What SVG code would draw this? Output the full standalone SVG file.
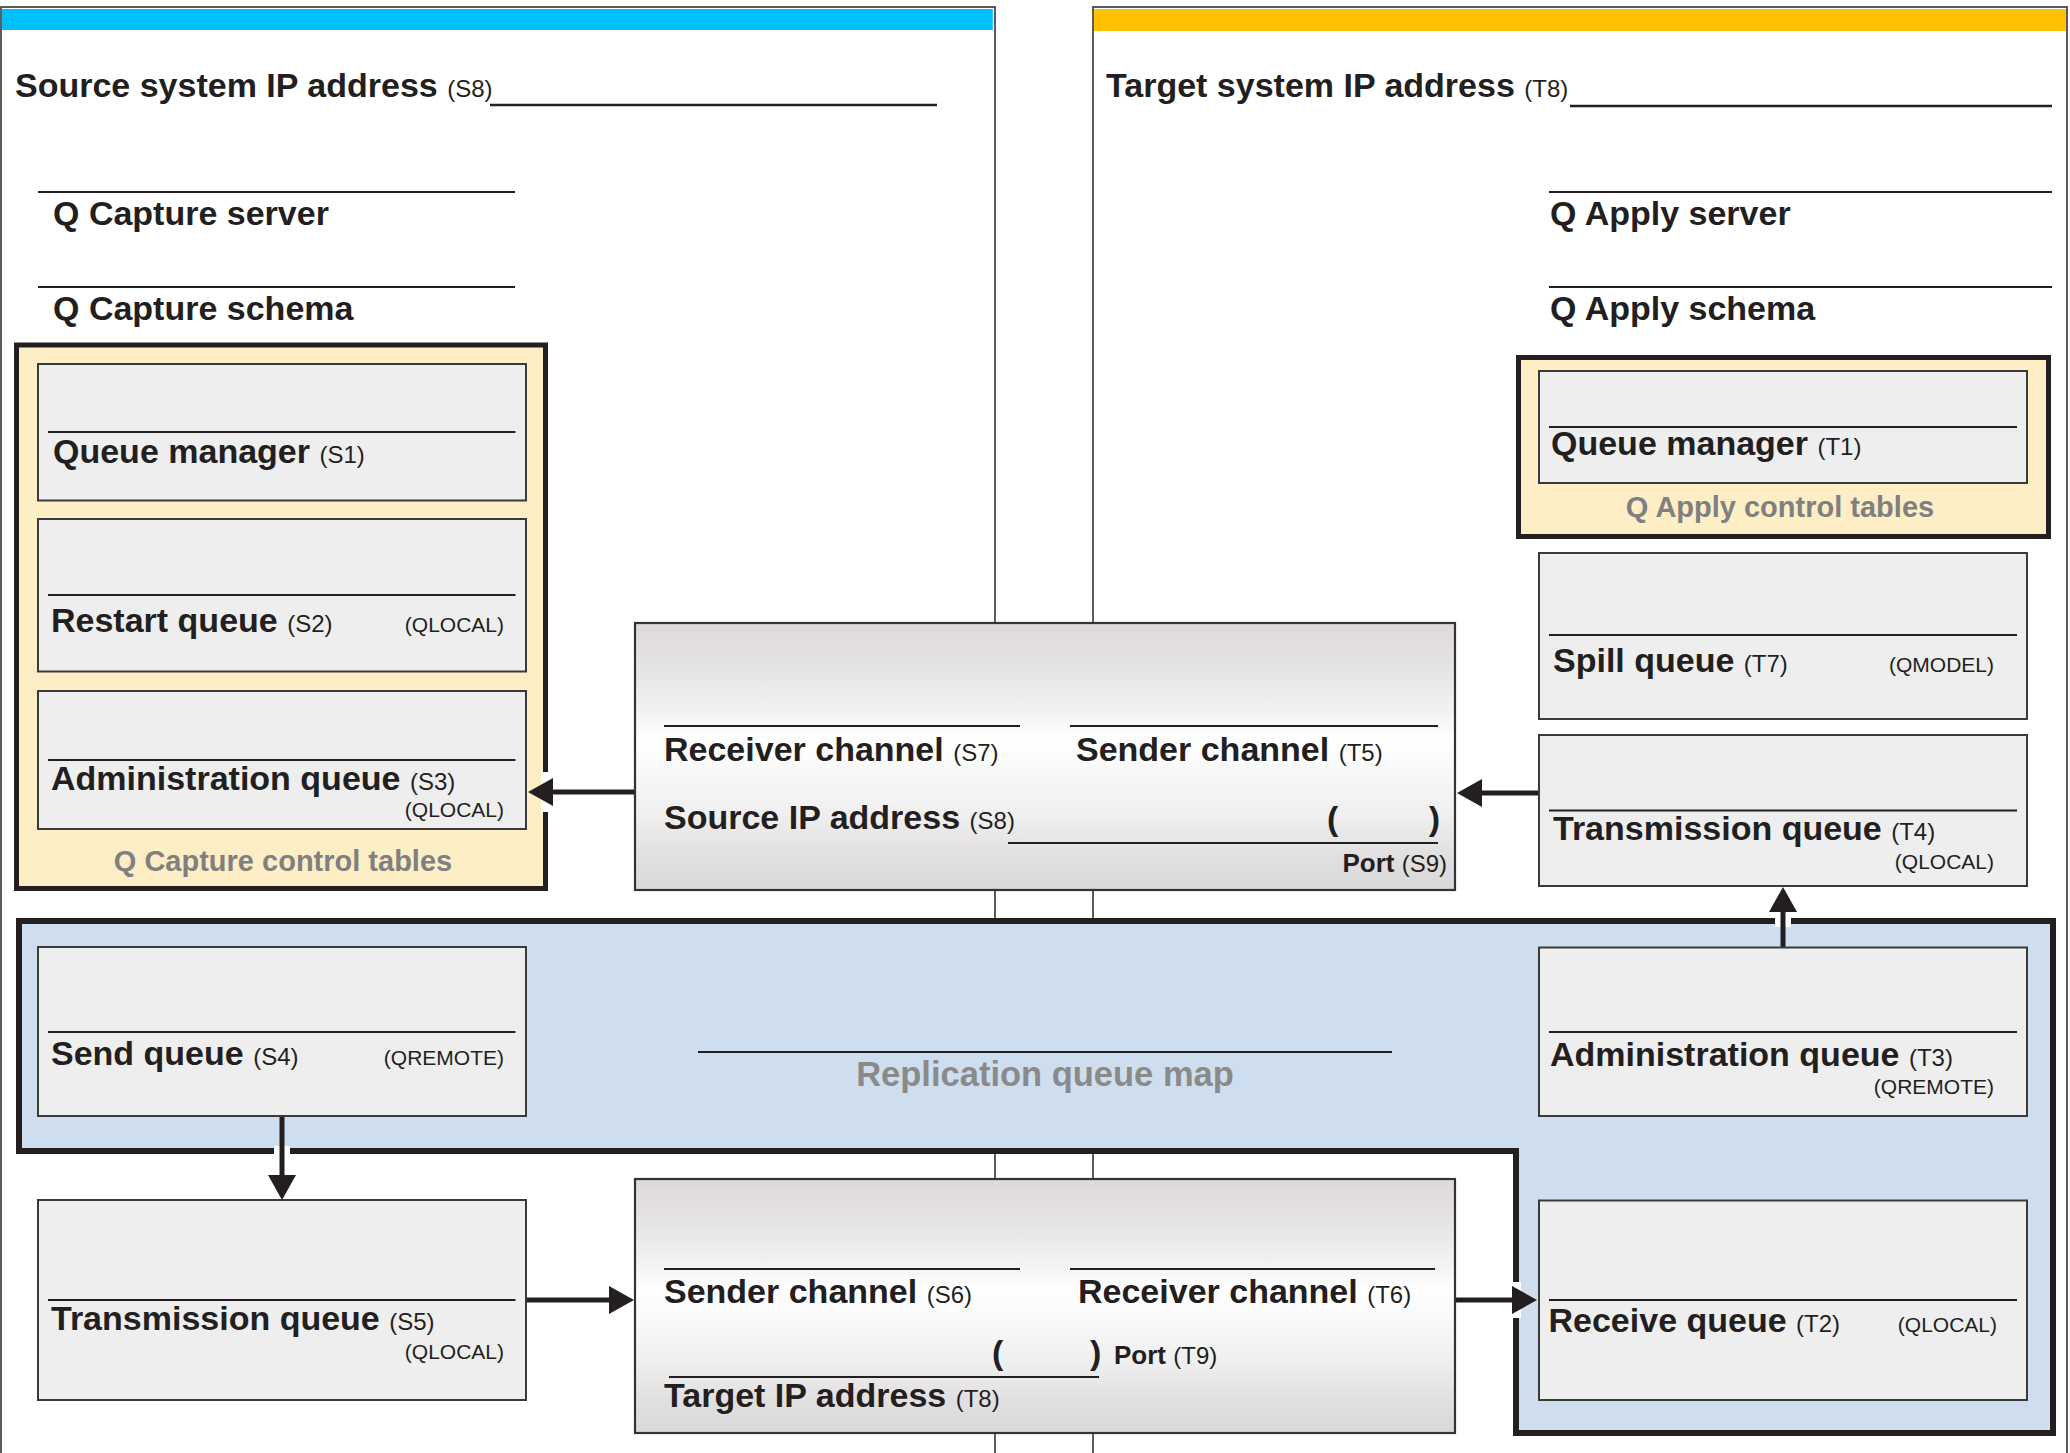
<svg xmlns="http://www.w3.org/2000/svg" width="2070" height="1453" viewBox="0 0 2070 1453">
<defs>
<style>
.panel{fill:#ffffff;stroke:#333;stroke-width:1.6}
.box{fill:#eeeeee;stroke:#3a3a3a;stroke-width:2}
.ch{fill:url(#chg);stroke:#333;stroke-width:2.2}
.ul{stroke:#231f20;stroke-width:2.2;fill:none}
.hl{stroke:#231f20;stroke-width:2.6;fill:none}
.lb{font-family:"Liberation Sans",Arial,Helvetica,sans-serif;font-weight:bold;font-size:34px;fill:#231f20}
.sm{font-weight:normal;font-size:24px}
.ty{font-family:"Liberation Sans",Arial,Helvetica,sans-serif;font-size:21px;fill:#231f20}
.gr{font-family:"Liberation Sans",Arial,Helvetica,sans-serif;font-weight:bold;font-size:29px;fill:#808080;text-anchor:middle}
.gr2{font-family:"Liberation Sans",Arial,Helvetica,sans-serif;font-weight:bold;font-size:34.5px;fill:#8a8a8a;text-anchor:middle}
.pt{font-family:"Liberation Sans",Arial,Helvetica,sans-serif;font-weight:bold;font-size:26px;fill:#231f20}
.halo{fill:#ffffff}
.conn{stroke:#231f20;stroke-width:5;fill:none}
</style>
<linearGradient id="chg" x1="0" y1="0" x2="0" y2="1">
<stop offset="0" stop-color="#d9d9d9"/>
<stop offset="0.06" stop-color="#e3dcde"/>
<stop offset="0.18" stop-color="#e5e5e5"/>
<stop offset="0.33" stop-color="#f2f2f2"/>
<stop offset="0.44" stop-color="#ffffff"/>
<stop offset="0.56" stop-color="#f8f8f8"/>
<stop offset="0.72" stop-color="#efefef"/>
<stop offset="0.86" stop-color="#e3e0e1"/>
<stop offset="1" stop-color="#d8d8d8"/>
</linearGradient>
<marker id="ah" viewBox="0 0 25 28" refX="0" refY="14" markerWidth="25" markerHeight="28" markerUnits="userSpaceOnUse" orient="auto" overflow="visible">
<path d="M0,0 L25,14 L0,28 Z" fill="#231f20"/>
</marker>
</defs>

<rect width="2070" height="1453" fill="#ffffff"/>

<g id="source-system">
<rect class="panel" x="1" y="7" width="994" height="1470"/>
<rect x="1.8" y="9" width="991" height="21" fill="#00bfff"/>
<text class="lb" x="15" y="97">Source system IP address <tspan class="sm">(S8)</tspan></text>
<line class="hl" x1="490" y1="105" x2="937" y2="105"/>
<line class="ul" x1="38" y1="192" x2="515" y2="192"/>
<text class="lb" x="53" y="225">Q Capture server</text>
<line class="ul" x1="38" y1="287" x2="515" y2="287"/>
<text class="lb" x="53" y="320">Q Capture schema</text>
</g>

<g id="target-system">
<rect class="panel" x="1093" y="7" width="974" height="1470"/>
<rect x="1094" y="9" width="972" height="22" fill="#ffc000"/>
<text class="lb" x="1106" y="97">Target system IP address <tspan class="sm">(T8)</tspan></text>
<line class="hl" x1="1570" y1="106" x2="2052" y2="106"/>
<line class="ul" x1="1549" y1="192" x2="2052" y2="192"/>
<text class="lb" x="1550" y="225">Q Apply server</text>
<line class="ul" x1="1549" y1="287" x2="2052" y2="287"/>
<text class="lb" x="1550" y="320">Q Apply schema</text>
</g>

<g id="capture-control-tables">
<rect x="16.5" y="345" width="529" height="543.5" fill="#fdeec6" stroke="#231f20" stroke-width="5"/>
<text class="gr" x="283" y="871">Q Capture control tables</text>
</g>

<g id="apply-control-tables">
<rect x="1518.5" y="357.5" width="530" height="179" fill="#fdeec6" stroke="#231f20" stroke-width="5"/>
<text class="gr" x="1780" y="517">Q Apply control tables</text>
</g>

<g id="replication-queue-map">
<path d="M19,921 H2053 V1433 H1516 V1151 H19 Z" fill="#cedeee" stroke="#231f20" stroke-width="6"/>
<line class="ul" x1="698" y1="1052" x2="1392" y2="1052"/>
<text class="gr2" x="1045" y="1086">Replication queue map</text>
</g>

<g id="connectors">
<rect class="halo" x="541" y="772" width="9" height="40"/>
<rect class="halo" x="274" y="1146" width="16" height="11"/>
<rect class="halo" x="1775" y="916" width="16" height="11"/>
<rect class="halo" x="1511" y="1282" width="10" height="36"/>
<path class="conn" d="M635,792 H553" marker-end="url(#ah)"/>
<path class="conn" d="M1539,793 H1482" marker-end="url(#ah)"/>
<path class="conn" d="M282,1116 V1175" marker-end="url(#ah)"/>
<path class="conn" d="M1783,947 V912" marker-end="url(#ah)"/>
<path class="conn" d="M526,1300 H609" marker-end="url(#ah)"/>
<path class="conn" d="M1455,1300 H1512" marker-end="url(#ah)"/>
</g>

<g id="s1-queue-manager">
<rect class="box" x="38" y="364" width="488" height="136.5"/>
<line class="ul" x1="48" y1="432" x2="515.5" y2="432"/>
<text class="lb" x="53" y="463">Queue manager <tspan class="sm">(S1)</tspan></text>
</g>

<g id="s2-restart-queue">
<rect class="box" x="38" y="519" width="488" height="152.5"/>
<line class="ul" x1="48" y1="595" x2="515.5" y2="595"/>
<text class="lb" x="51" y="631.5">Restart queue <tspan class="sm">(S2)</tspan></text>
<text class="ty" x="504" y="631.5" text-anchor="end">(QLOCAL)</text>
</g>

<g id="s3-administration-queue">
<rect class="box" x="38" y="691" width="488" height="138"/>
<line class="ul" x1="48" y1="760" x2="515.5" y2="760"/>
<text class="lb" x="51" y="790">Administration queue <tspan class="sm">(S3)</tspan></text>
<text class="ty" x="504" y="816.5" text-anchor="end">(QLOCAL)</text>
</g>

<g id="s4-send-queue">
<rect class="box" x="38" y="947" width="488" height="169"/>
<line class="ul" x1="48" y1="1032" x2="515.5" y2="1032"/>
<text class="lb" x="51" y="1065">Send queue <tspan class="sm">(S4)</tspan></text>
<text class="ty" x="504" y="1065" text-anchor="end">(QREMOTE)</text>
</g>

<g id="s5-transmission-queue">
<rect class="box" x="38" y="1200" width="488" height="200"/>
<line class="ul" x1="48" y1="1300" x2="515.5" y2="1300"/>
<text class="lb" x="51" y="1330">Transmission queue <tspan class="sm">(S5)</tspan></text>
<text class="ty" x="504" y="1358.5" text-anchor="end">(QLOCAL)</text>
</g>

<g id="t1-queue-manager">
<rect class="box" x="1539" y="371" width="488" height="112"/>
<line class="ul" x1="1549" y1="427" x2="2017" y2="427"/>
<text class="lb" x="1551" y="455">Queue manager <tspan class="sm">(T1)</tspan></text>
</g>

<g id="t7-spill-queue">
<rect class="box" x="1539" y="553" width="488" height="166"/>
<line class="ul" x1="1549" y1="635" x2="2017" y2="635"/>
<text class="lb" x="1553" y="672">Spill queue <tspan class="sm">(T7)</tspan></text>
<text class="ty" x="1994" y="672" text-anchor="end">(QMODEL)</text>
</g>

<g id="t4-transmission-queue">
<rect class="box" x="1539" y="735" width="488" height="151"/>
<line class="ul" x1="1549" y1="810.5" x2="2017" y2="810.5"/>
<text class="lb" x="1553" y="839.5">Transmission queue <tspan class="sm">(T4)</tspan></text>
<text class="ty" x="1994" y="869" text-anchor="end">(QLOCAL)</text>
</g>

<g id="t3-administration-queue">
<rect class="box" x="1539" y="947.5" width="488" height="168.5"/>
<line class="ul" x1="1549" y1="1032" x2="2017" y2="1032"/>
<text class="lb" x="1550" y="1066">Administration queue <tspan class="sm">(T3)</tspan></text>
<text class="ty" x="1994" y="1094" text-anchor="end">(QREMOTE)</text>
</g>

<g id="t2-receive-queue">
<rect class="box" x="1539" y="1200.5" width="488" height="199.5"/>
<line class="ul" x1="1549" y1="1300" x2="2017" y2="1300"/>
<text class="lb" x="1548.5" y="1332">Receive queue <tspan class="sm">(T2)</tspan></text>
<text class="ty" x="1997" y="1332" text-anchor="end">(QLOCAL)</text>
</g>

<g id="channel-in">
<rect class="ch" x="635" y="623" width="820" height="267"/>
<line class="ul" x1="664" y1="726" x2="1020" y2="726"/>
<line class="ul" x1="1070" y1="726" x2="1438" y2="726"/>
<text class="lb" x="664" y="761">Receiver channel <tspan class="sm">(S7)</tspan></text>
<text class="lb" x="1076" y="761">Sender channel <tspan class="sm">(T5)</tspan></text>
<text class="lb" x="664" y="829">Source IP address <tspan class="sm">(S8)</tspan></text>
<line class="ul" x1="1008" y1="843" x2="1438" y2="843"/>
<text class="lb" x="1327" y="830">(</text>
<text class="lb" x="1440" y="830" text-anchor="end">)</text>
<text class="pt" x="1447" y="872" text-anchor="end">Port <tspan class="sm">(S9)</tspan></text>
</g>

<g id="channel-out">
<rect class="ch" x="635" y="1179" width="820" height="254"/>
<line class="ul" x1="664" y1="1269" x2="1020" y2="1269"/>
<line class="ul" x1="1070" y1="1269" x2="1435" y2="1269"/>
<text class="lb" x="664" y="1303">Sender channel <tspan class="sm">(S6)</tspan></text>
<text class="lb" x="1078" y="1303">Receiver channel <tspan class="sm">(T6)</tspan></text>
<text class="lb" x="992" y="1364">(</text>
<text class="lb" x="1090" y="1364">)</text>
<text class="pt" x="1114" y="1364">Port <tspan class="sm">(T9)</tspan></text>
<line class="ul" x1="669" y1="1377" x2="1099" y2="1377"/>
<text class="lb" x="664" y="1407">Target IP address <tspan class="sm">(T8)</tspan></text>
</g>
</svg>
